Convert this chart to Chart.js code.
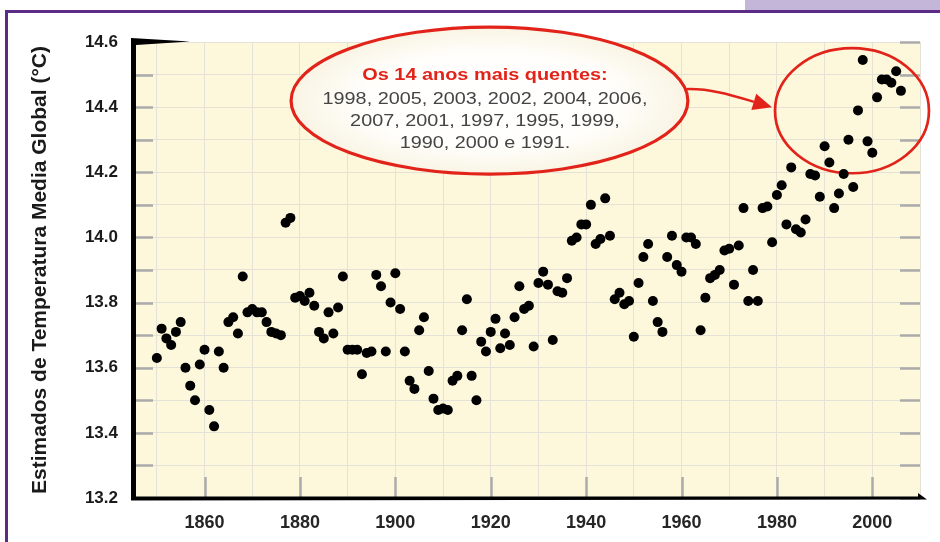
<!DOCTYPE html>
<html lang="pt">
<head>
<meta charset="utf-8">
<title>Estimados de Temperatura Média Global</title>
<script src="https://cdn.jsdelivr.net/npm/chart.js@4.4.1/dist/chart.umd.min.js"></script>
<style>
  html, body { margin: 0; padding: 0; background: #fff; overflow: hidden; }
  .frame-top { position: absolute; left: 5px; top: 10px; width: 935px; height: 3px; background: #5b2b86; }
  .frame-left { position: absolute; left: 5px; top: 10px; width: 3px; height: 532px; background: #5b2b86; }
  .tab { position: absolute; left: 745px; top: 0; width: 195px; height: 10px; background: #c4b6d9; }
  #chart { position: absolute; left: 0; top: 0; }
</style>
</head>
<body>
<div class="tab"></div>
<div class="frame-top"></div>
<div class="frame-left"></div>
<canvas id="chart" width="940" height="542"></canvas>
<script>
// annual estimates, one dot per year
const years = [
  1850, 1851, 1852, 1853, 1854, 1855, 1856, 1857, 1858, 1859,
  1860, 1861, 1862, 1863, 1864, 1865, 1866, 1867, 1868, 1869,
  1870, 1871, 1872, 1873, 1874, 1875, 1876, 1877, 1878, 1879,
  1880, 1881, 1882, 1883, 1884, 1885, 1886, 1887, 1888, 1889,
  1890, 1891, 1892, 1893, 1894, 1895, 1896, 1897, 1898, 1899,
  1900, 1901, 1902, 1903, 1904, 1905, 1906, 1907, 1908, 1909,
  1910, 1911, 1912, 1913, 1914, 1915, 1916, 1917, 1918, 1919,
  1920, 1921, 1922, 1923, 1924, 1925, 1926, 1927, 1928, 1929,
  1930, 1931, 1932, 1933, 1934, 1935, 1936, 1937, 1938, 1939,
  1940, 1941, 1942, 1943, 1944, 1945, 1946, 1947, 1948, 1949,
  1950, 1951, 1952, 1953, 1954, 1955, 1956, 1957, 1958, 1959,
  1960, 1961, 1962, 1963, 1964, 1965, 1966, 1967, 1968, 1969,
  1970, 1971, 1972, 1973, 1974, 1975, 1976, 1977, 1978, 1979,
  1980, 1981, 1982, 1983, 1984, 1985, 1986, 1987, 1988, 1989,
  1990, 1991, 1992, 1993, 1994, 1995, 1996, 1997, 1998, 1999,
  2000, 2001, 2002, 2003, 2004, 2005, 2006
];

const temps = [
  13.63, 13.72, 13.69, 13.67, 13.71, 13.74, 13.60, 13.545, 13.50, 13.61,
  13.655, 13.47, 13.42, 13.65, 13.60, 13.74, 13.755, 13.705, 13.88, 13.77,
  13.78, 13.77, 13.77, 13.74, 13.71, 13.705, 13.70, 14.045, 14.06, 13.815,
  13.82, 13.805, 13.83, 13.79, 13.71, 13.69, 13.77, 13.705, 13.785, 13.88,
  13.655, 13.655, 13.655, 13.58, 13.645, 13.65, 13.885, 13.85, 13.65, 13.80,
  13.89, 13.78, 13.65, 13.56, 13.535, 13.715, 13.755, 13.59, 13.505, 13.47,
  13.475, 13.47, 13.56, 13.575, 13.715, 13.81, 13.575, 13.50, 13.68, 13.65,
  13.71, 13.75, 13.66, 13.705, 13.67, 13.755, 13.85, 13.78, 13.79, 13.665,
  13.86, 13.895, 13.855, 13.685, 13.835, 13.83, 13.875, 13.99, 14.00, 14.04,
  14.04, 14.10, 13.98, 13.995, 14.12, 14.005, 13.81, 13.83, 13.795, 13.805,
  13.695, 13.86, 13.94, 13.98, 13.805, 13.74, 13.71, 13.94, 14.005, 13.915,
  13.895, 14.00, 14.00, 13.98, 13.715, 13.815, 13.875, 13.885, 13.90, 13.96,
  13.965, 13.855, 13.975, 14.09, 13.805, 13.90, 13.805, 14.09, 14.095, 13.985,
  14.13, 14.16, 14.04, 14.215, 14.025, 14.015, 14.055, 14.195, 14.19, 14.125,
  14.28, 14.23, 14.09, 14.135, 14.195, 14.30, 14.155, 14.39, 14.545, 14.295,
  14.26, 14.43, 14.485, 14.485, 14.475, 14.51, 14.45
];

const gridYears = [1850, 1860, 1870, 1880, 1890, 1900, 1910, 1920, 1930, 1940, 1950, 1960, 1970, 1980, 1990, 2000, 2010];
const xTickLabels = [1860, 1880, 1900, 1920, 1940, 1960, 1980, 2000];
const yGridValues = [13.2, 13.3, 13.4, 13.5, 13.6, 13.7, 13.8, 13.9, 14.0, 14.1, 14.2, 14.3, 14.4, 14.5, 14.6];
const yTickLabels = [13.2, 13.4, 13.6, 13.8, 14.0, 14.2, 14.4, 14.6];

const yTitle = 'Estimados de Temperatura Media Global (°C)';
const noteTitle = 'Os 14 anos mais quentes:';
const noteLines = [
  '1998, 2005, 2003, 2002, 2004, 2006,',
  '2007, 2001, 1997, 1995, 1999,',
  '1990, 2000 e 1991.'
];

const FONT = "'Liberation Sans', Arial, sans-serif";
const RED = '#e2231a';

function hasValue(list, v) {
  return list.some(t => Math.abs(t - v) < 1e-6);
}

function wideText(ctx, text, x, y, sx) {
  ctx.save();
  ctx.translate(x, y);
  ctx.scale(sx, 1);
  ctx.fillText(text, 0, 0);
  ctx.restore();
}

const decorations = {
  id: 'decorations',
  beforeDraw(chart) {
    const { ctx, chartArea: a } = chart;
    ctx.save();
    ctx.fillStyle = '#fdf8dc';
    ctx.fillRect(a.left, a.top, a.right - a.left, a.bottom - a.top);
    ctx.restore();
  },
  beforeDatasetsDraw(chart) {
    const { ctx, chartArea: a, scales: { x, y } } = chart;
    ctx.save();

    // short gray marks inside the frame
    ctx.strokeStyle = '#ababab';
    ctx.lineWidth = 2.5;
    yGridValues.forEach(v => {
      const py = Math.round(y.getPixelForValue(v)) + 0.5;
      ctx.beginPath();
      ctx.moveTo(a.left, py); ctx.lineTo(a.left + 20, py);
      ctx.moveTo(a.right - 20, py); ctx.lineTo(a.right, py);
      ctx.stroke();
    });
    xTickLabels.forEach(v => {
      const px = Math.round(x.getPixelForValue(v)) + 0.5;
      ctx.beginPath();
      ctx.moveTo(px, a.bottom - 21); ctx.lineTo(px, a.bottom);
      ctx.stroke();
    });

    // heavy black axes
    ctx.fillStyle = '#000';
    ctx.beginPath();
    ctx.moveTo(a.left - 2, a.top - 4);
    ctx.lineTo(a.left + 57, a.top - 0.5);
    ctx.lineTo(a.left + 3, a.top + 3);
    ctx.lineTo(a.left + 3, a.bottom - 1.5);
    ctx.lineTo(a.right - 2, a.bottom - 1.5);
    ctx.lineTo(a.right - 2, a.bottom - 5);
    ctx.lineTo(a.right + 7, a.bottom + 1.5);
    ctx.lineTo(a.left - 2, a.bottom + 2.5);
    ctx.closePath();
    ctx.fill();

    // callout with the warmest years
    const bx = x.getPixelForValue(1919.74), by = y.getPixelForValue(14.42);
    const brx = x.getPixelForValue(1919.74 + 41.6) - bx;
    const bry = by - y.getPixelForValue(14.42 + 0.2257);

    const g = ctx.createRadialGradient(0, 0, 0, 0, 0, 1);
    g.addColorStop(0, '#ffffff');
    g.addColorStop(0.65, '#fffefb');
    g.addColorStop(1, '#f9f4e4');
    ctx.save();
    ctx.translate(bx, by);
    ctx.scale(brx, bry);
    ctx.beginPath();
    ctx.arc(0, 0, 1, 0, Math.PI * 2);
    ctx.fillStyle = g;
    ctx.fill();
    ctx.restore();

    ctx.beginPath();
    ctx.ellipse(bx, by, brx, bry, 0, 0, Math.PI * 2);
    ctx.strokeStyle = RED;
    ctx.lineWidth = 3.2;
    ctx.stroke();

    ctx.textAlign = 'center';
    ctx.textBaseline = 'middle';
    ctx.fillStyle = RED;
    ctx.font = 'bold 17px ' + FONT;
    wideText(ctx, noteTitle, bx - 4.5, by - 25, 1.17);
    ctx.fillStyle = '#444';
    ctx.font = '16.5px ' + FONT;
    noteLines.forEach((line, i) => {
      wideText(ctx, line, bx - 4.5, by - 1.5 + i * 22, 1.2);
    });

    // ring around the recent warm years
    const sx = x.getPixelForValue(1995.74), sy = y.getPixelForValue(14.389);
    const srx = x.getPixelForValue(1995.74 + 16.14) - sx;
    const sry = sy - y.getPixelForValue(14.389 + 0.192);
    ctx.beginPath();
    ctx.ellipse(sx, sy, srx, sry, 0, 0, Math.PI * 2);
    ctx.lineWidth = 2.7;
    ctx.stroke();

    // curved arrow from the callout to the ring
    const start = { x: bx + brx * 0.988, y: by - bry * 0.156 };
    const tip = { x: sx - srx - 3, y: sy - 3.5 };
    const ux = 0.958, uy = 0.287;
    const base = { x: tip.x - 19 * ux, y: tip.y - 19 * uy };
    ctx.beginPath();
    ctx.moveTo(start.x, start.y);
    ctx.bezierCurveTo(start.x + 25, start.y - 1, base.x - 20 * ux, base.y - 20 * uy, base.x, base.y);
    ctx.lineWidth = 2.5;
    ctx.stroke();
    ctx.beginPath();
    ctx.moveTo(tip.x, tip.y);
    ctx.lineTo(base.x - 8.5 * uy, base.y + 8.5 * ux);
    ctx.lineTo(base.x + 8.5 * uy, base.y - 8.5 * ux);
    ctx.closePath();
    ctx.fillStyle = RED;
    ctx.fill();

    ctx.restore();
  }
};

new Chart(document.getElementById('chart'), {
  type: 'scatter',
  data: {
    datasets: [{
      data: years.map((yr, i) => ({ x: yr, y: temps[i] })),
      backgroundColor: '#000',
      borderWidth: 0,
      pointRadius: 5,
      pointHoverRadius: 5
    }]
  },
  options: {
    responsive: false,
    animation: false,
    layout: { padding: { top: 42, right: 20, left: 0, bottom: 0 } },
    plugins: {
      legend: { display: false },
      tooltip: { enabled: false }
    },
    scales: {
      x: {
        type: 'linear',
        min: 1845,
        max: 2010,
        afterBuildTicks: s => { s.ticks = gridYears.map(v => ({ value: v })); },
        afterFit: s => { s.height = 44; },
        border: { display: false },
        grid: { color: '#e4e1d6', lineWidth: 1, drawTicks: false },
        ticks: {
          autoSkip: false,
          maxRotation: 0,
          padding: 14,
          color: '#262626',
          font: { family: FONT, size: 18, weight: 'bold' },
          callback: v => (xTickLabels.includes(v) ? String(v) : '')
        }
      },
      y: {
        min: 13.2,
        max: 14.6,
        afterBuildTicks: s => { s.ticks = yGridValues.map(v => ({ value: v })); },
        afterFit: s => { s.width = 133; },
        border: { display: false },
        grid: { color: '#e4e1d6', lineWidth: 1, drawTicks: false },
        ticks: {
          autoSkip: false,
          padding: 15,
          color: '#1a1a1a',
          font: { family: FONT, size: 17, weight: 'bold' },
          callback: v => (hasValue(yTickLabels, v) ? v.toFixed(1) : '')
        },
        title: {
          display: true,
          text: yTitle,
          color: '#1a1a1a',
          font: { family: FONT, size: 21, weight: 'bold' },
          padding: { top: 28, bottom: 0 }
        }
      }
    }
  },
  plugins: [decorations]
});
</script>
</body>
</html>
